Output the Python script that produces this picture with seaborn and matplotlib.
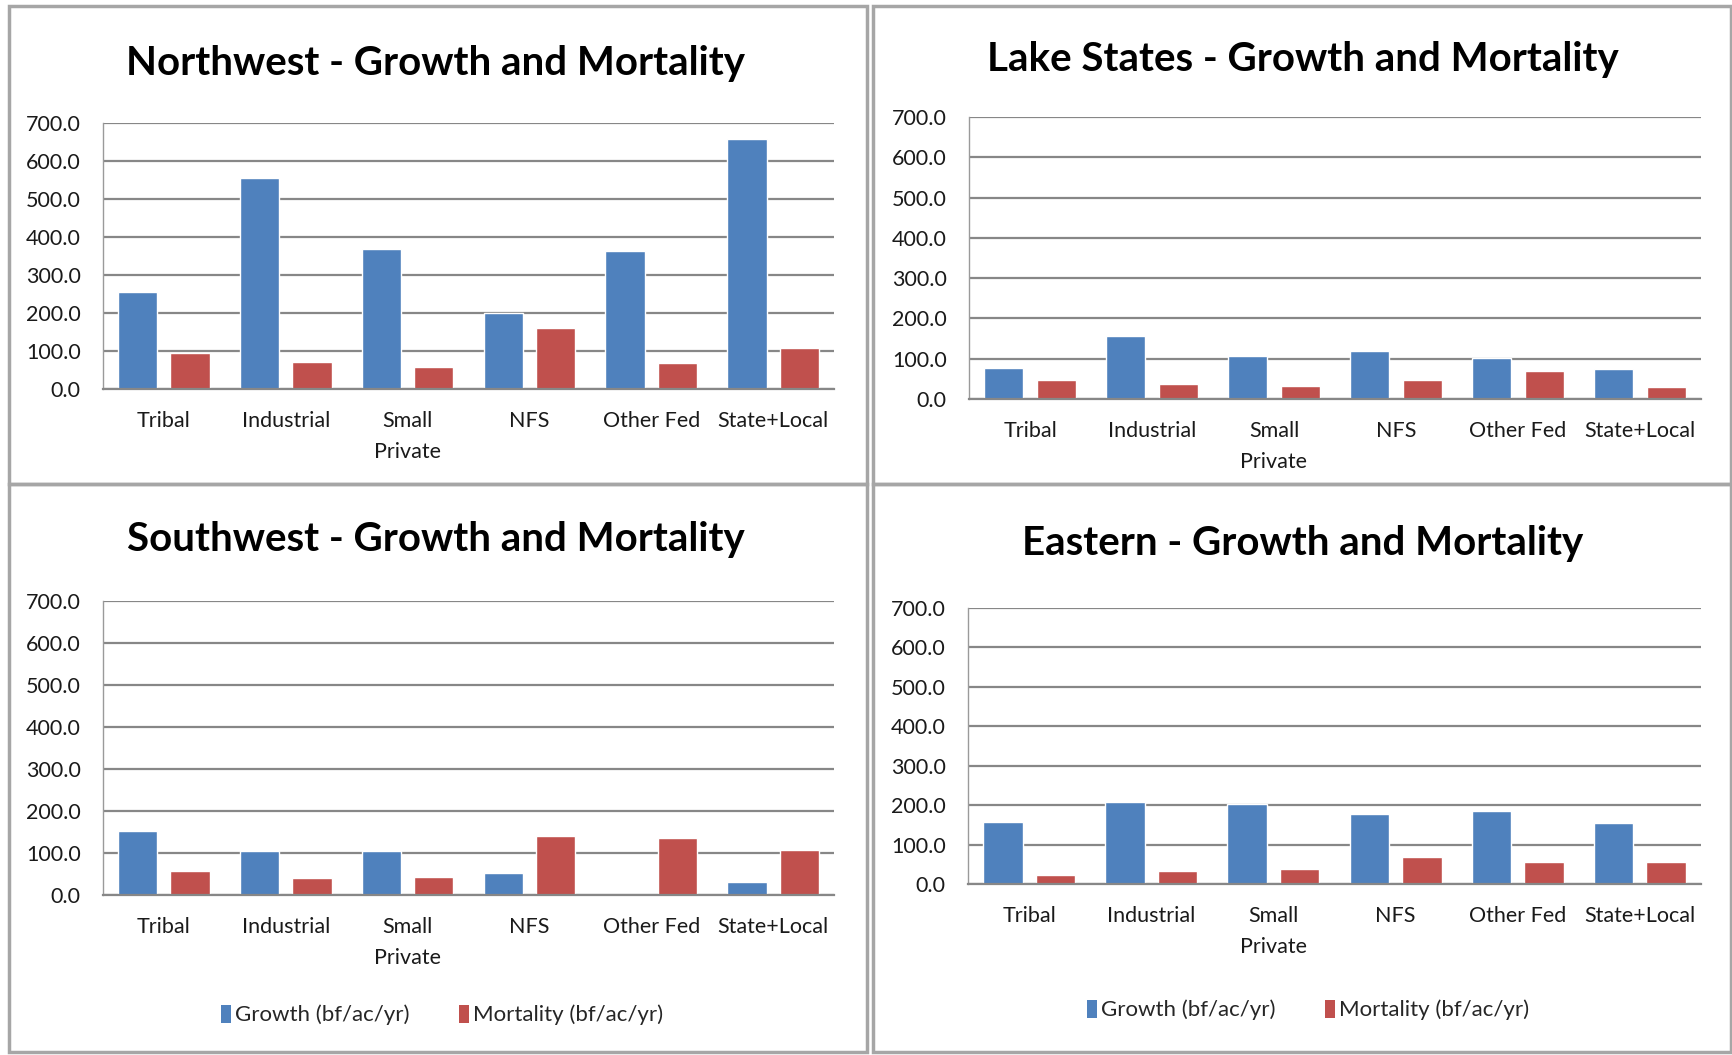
import matplotlib
matplotlib.use("Agg")
import matplotlib.pyplot as plt
from matplotlib.patches import Rectangle, Patch
import seaborn as sns
import pandas as pd

# owner classes on the x axis
owners = ["Tribal", "Industrial", "Small\nPrivate", "NFS", "Other Fed", "State+Local"]
series = ["Growth (bf/ac/yr)", "Mortality (bf/ac/yr)"]

# values
nw_growth = [256, 556, 368, 201, 363, 657]
nw_mort = [94, 70, 59, 161, 68, 109]
ls_growth = [78, 157, 107, 119, 101, 74]
ls_mort = [46, 38, 32, 46, 69, 30]
sw_growth = [152, 104, 104, 53, 0, 30]
sw_mort = [58, 41, 44, 141, 135, 108]
ea_growth = [158, 208, 202, 177, 184, 154]
ea_mort = [22, 34, 39, 69, 57, 56]

regions = ["Northwest", "Lake States", "Southwest", "Eastern"]
growth = [nw_growth, ls_growth, sw_growth, ea_growth]
mortality = [nw_mort, ls_mort, sw_mort, ea_mort]

W, H = 1732, 1055
# axes boxes in pixels: left, top, right, bottom
boxes = [(103, 123, 834, 389), (969, 117, 1701, 399),
         (103, 601, 834, 895), (968, 608, 1701, 884)]
title_pos = [(436, 63), (1303, 59), (436, 540), (1303, 543)]
legend_pos = {2: (442, 1015), 3: (1308, 1010)}

palette = {series[0]: "#4F81BD", series[1]: "#C0504D"}

sns.set_theme(style="white")
plt.rcParams["font.family"] = ["Lato", "DejaVu Sans"]

fig = plt.figure(figsize=(W / 100, H / 100), dpi=100)
fig.patch.set_facecolor("white")

# panel frames
for x0, y0, x1, y1 in [(9, 6, 867, 484), (873, 6, 1731, 484),
                       (9, 484, 867, 1052), (873, 484, 1731, 1052)]:
    fig.add_artist(Rectangle((x0 / W, 1 - y1 / H), (x1 - x0) / W, (y1 - y0) / H,
                             transform=fig.transFigure, fill=False,
                             edgecolor="#a6a6a6", lw=2.5))

for i, region in enumerate(regions):
    rows = []
    for j, o in enumerate(owners):
        rows.append({"Owner": o, "Series": series[0], "Value": growth[i][j]})
        rows.append({"Owner": o, "Series": series[1], "Value": mortality[i][j]})
    df = pd.DataFrame(rows)

    l, t, r, b = boxes[i]
    ax = fig.add_axes([l / W, 1 - b / H, (r - l) / W, (b - t) / H])
    sns.barplot(data=df, x="Owner", y="Value", hue="Series", order=owners,
                hue_order=series, palette=palette, width=0.86, gap=0.25,
                saturation=1, errorbar=None, legend=False, ax=ax)
    ax.set_ylim(0, 700)
    ax.set_yticks(range(0, 701, 100))
    ax.set_yticklabels([f"{v:.1f}" for v in range(0, 701, 100)], fontsize=15.5)
    ax.set_xticks(range(len(owners)))
    ax.set_xticklabels(owners, fontsize=15.5, linespacing=1.65)
    ax.set_xlim(-0.5, len(owners) - 0.5)
    ax.set_xlabel("")
    ax.set_ylabel("")
    ax.yaxis.grid(True, color="#878787", lw=1.6)
    ax.set_axisbelow(True)
    ax.tick_params(axis="both", length=0, pad=16, colors="#1a1a1a")
    for side in ["top", "right"]:
        ax.spines[side].set_visible(False)
    ax.spines["left"].set_color("#9a9a9a")
    ax.spines["left"].set_linewidth(1.0)
    ax.spines["bottom"].set_color("#878787")
    ax.spines["bottom"].set_linewidth(1.6)

    tx, ty = title_pos[i]
    fig.text(tx / W, 1 - ty / H, f"{region} - Growth and Mortality",
             ha="center", va="center", fontsize=29, fontweight="bold", color="black")

    if i in legend_pos:
        lx, ly = legend_pos[i]
        handles = [Patch(facecolor=palette[s], edgecolor="none", label=s) for s in series]
        fig.legend(handles=handles, loc="center", ncol=2, frameon=False,
                   bbox_to_anchor=(lx / W, 1 - ly / H), fontsize=16,
                   handlelength=0.45, handleheight=0.9, handletextpad=0.2,
                   columnspacing=2.2)

fig.savefig("out.png", dpi=100, facecolor="white")
